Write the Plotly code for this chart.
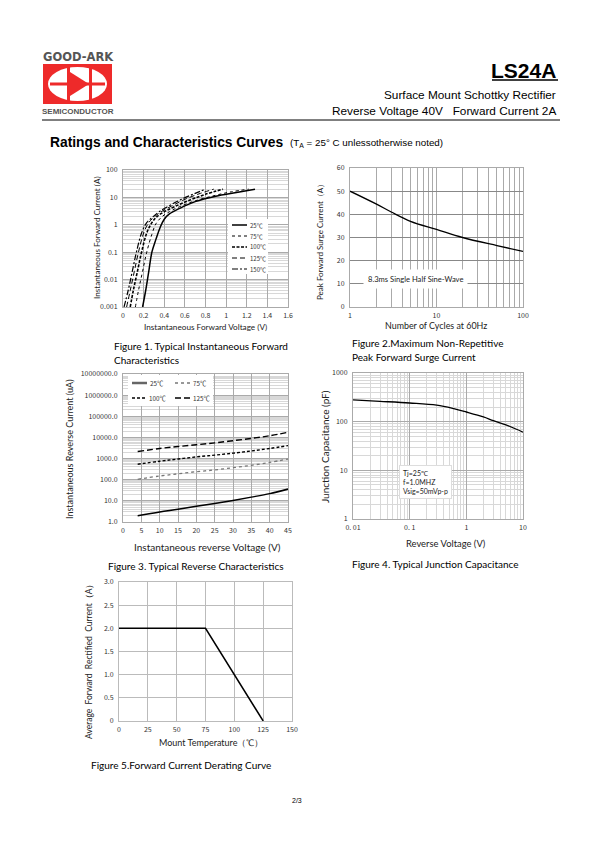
import plotly.graph_objects as go

W, H = 595, 842
def fx(p): return p / W
def fy(p): return 1 - p / H

# ---------------- DATA ----------------
# Figure 1: forward characteristics (V, A)
f1_v25 = [0.19, 0.22, 0.25, 0.28, 0.32, 0.36, 0.40, 0.45, 0.55, 0.70, 0.90, 1.10, 1.28]
f1_i25 = [0.001, 0.004, 0.02, 0.1, 0.3, 0.8, 1.6, 2.5, 4.0, 7.0, 11.0, 15.0, 20.0]
f1_v75 = [0.12, 0.15, 0.19, 0.23, 0.28, 0.32, 0.38, 0.45, 0.55, 0.70, 0.90, 1.05, 1.22]
f1_i75 = [0.001, 0.004, 0.02, 0.1, 0.45, 1.1, 2.0, 3.0, 4.6, 7.5, 12.0, 16.0, 20.0]
f1_v100 = [0.07, 0.10, 0.14, 0.18, 0.23, 0.28, 0.33, 0.40, 0.50, 0.65, 0.80, 0.97]
f1_i100 = [0.001, 0.004, 0.02, 0.1, 0.5, 1.2, 2.0, 3.0, 4.6, 8.0, 13.0, 20.0]
f1_v125 = [0.035, 0.07, 0.11, 0.15, 0.20, 0.25, 0.30, 0.37, 0.47, 0.60, 0.75, 0.88]
f1_i125 = [0.001, 0.004, 0.02, 0.1, 0.5, 1.2, 1.9, 3.0, 4.8, 8.5, 14.0, 20.0]
f1_v150 = [0.01, 0.05, 0.09, 0.13, 0.18, 0.23, 0.28, 0.35, 0.45, 0.58, 0.70, 0.80]
f1_i150 = [0.001, 0.004, 0.02, 0.1, 0.5, 1.2, 1.8, 3.0, 5.0, 9.0, 14.0, 20.0]
f1_names = ["25℃", "75℃", "100℃", "125℃", "150℃"]
f1_xticks = [0, 0.2, 0.4, 0.6, 0.8, 1.0, 1.2, 1.4, 1.6]
f1_xtext = ["0", "0.2", "0.4", "0.6", "0.8", "1", "1.2", "1.4", "1.6"]
f1_yticks = [0.001, 0.01, 0.1, 1, 10, 100]
f1_ytext = ["0.001", "0.01", "0.1", "1", "10", "100"]

# Figure 2: surge current
f2_cycles = [1, 2, 3, 5, 10, 20, 50, 100]
f2_amps = [50, 44.5, 41, 37, 33.5, 30, 26.5, 24]
f2_note = "8.3ms Single Half Sine-Wave"

# Figure 3: reverse characteristics (V, uA)
f3_v = [4, 10, 15, 20, 25, 30, 35, 40, 45]
f3_i25 = [2.0, 3.0, 4.0, 5.5, 7.5, 10.5, 15, 22, 36]
f3_i75 = [105, 150, 190, 240, 290, 370, 480, 660, 950]
f3_i100 = [540, 750, 950, 1200, 1450, 1800, 2300, 3000, 4100]
f3_i125 = [2150, 3000, 3700, 4500, 5500, 7000, 9000, 12000, 17500]
f3_names = ["25℃", "75℃", "100℃", "125℃"]
f3_yticks = [1, 10, 100, 1000, 10000, 100000, 1000000, 10000000]
f3_ytext = ["1.0", "10.0", "100.0", "1000.0", "10000.0", "100000.0", "1000000.0", "10000000.0"]

# Figure 4: junction capacitance
f4_v = [0.01, 0.03, 0.1, 0.3, 0.6, 1, 2, 3, 5, 10]
f4_c = [280, 262, 242, 218, 185, 158, 125, 105, 86, 61]
f4_xticks = [0.01, 0.1, 1, 10]
f4_xtext = ["0. 01", "0. 1", "1", "10"]
f4_yticks = [1, 10, 100, 1000]
f4_ytext = ["1", "10", "100", "1000"]
f4_note = "Tj=25℃<br>f=1.0MHZ<br>Vsig=50mVp-p"

# Figure 5: derating
f5_t = [0, 75, 125]
f5_a = [2.0, 2.0, 0.0]
f5_yticks = [0, 0.5, 1.0, 1.5, 2.0, 2.5, 3.0]
f5_ytext = ["0", "0.5", "1.0", "1.5", "2.0", "2.5", "3.0"]

# ---------------- FIGURE ----------------
fig = go.Figure()
K = "#000000"
tickfont = dict(family="Noto Sans CJK SC", size=7, color="#333")

def minor_vals(lo, hi):
    return [m * 10 ** e for e in range(lo, hi) for m in range(2, 10)]

# line styles
f1_styles = [dict(width=1.5), dict(width=1, dash="dot"), dict(width=1.6, dash="3px,1.5px"),
             dict(width=1, dash="5px,3px"), dict(width=1.2, dash="6px,2px,2px,2px")]
f3_styles = [dict(width=1.5), dict(width=1.3, dash="dot"), dict(width=1.4, dash="3px,2px"),
             dict(width=1.4, dash="6px,3px")]
f3_colors = [K, "#777", K, K]

f1_series = [(f1_v25, f1_i25), (f1_v75, f1_i75), (f1_v100, f1_i100), (f1_v125, f1_i125),
             (f1_v150, f1_i150)]
for (v, i), nm, st in zip(f1_series, f1_names, f1_styles):
    fig.add_trace(go.Scatter(x=v, y=i, xaxis="x", yaxis="y", mode="lines", name=nm,
                             line=dict(color=K, **st), line_shape="spline", showlegend=False))

fig.add_trace(go.Scatter(x=f2_cycles, y=f2_amps, xaxis="x2", yaxis="y2", mode="lines",
                         line=dict(color=K, width=1.3), showlegend=False, line_shape="spline"))

for i, nm, st, c in zip([f3_i25, f3_i75, f3_i100, f3_i125], f3_names, f3_styles, f3_colors):
    fig.add_trace(go.Scatter(x=f3_v, y=i, xaxis="x3", yaxis="y3", mode="lines", name=nm,
                             line=dict(color=c, **st), line_shape="spline", showlegend=False))

fig.add_trace(go.Scatter(x=f4_v, y=f4_c, xaxis="x4", yaxis="y4", mode="lines",
                         line=dict(color=K, width=1.3), showlegend=False, line_shape="spline"))

fig.add_trace(go.Scatter(x=f5_t, y=f5_a, xaxis="x5", yaxis="y5", mode="lines",
                         line=dict(color=K, width=1.5), showlegend=False))

def xax(l, r, anchor, **kw):
    d = dict(domain=[fx(l), fx(r)], anchor=anchor, showgrid=True, gridcolor="#aaa", gridwidth=1,
             zeroline=False, showline=True, mirror=True, linecolor="#aaa", ticks="",
             tickfont=tickfont, ticklabelstandoff=2, automargin=False)
    d.update(kw)
    return d

def yax(t, b, anchor, **kw):
    d = dict(domain=[fy(b), fy(t)], anchor=anchor, showgrid=True, gridcolor="#aaa", gridwidth=1,
             zeroline=False, showline=True, mirror=True, linecolor="#aaa", ticks="",
             tickfont=tickfont, ticklabelstandoff=3, automargin=False)
    d.update(kw)
    return d

def mg(lo, hi, color="#d8d8d8"):
    return dict(showgrid=True, gridcolor=color, gridwidth=1, tickvals=minor_vals(lo, hi), ticks="")

fig.update_layout(
    width=W, height=H, margin=dict(l=0, r=0, t=0, b=0, autoexpand=False),
    paper_bgcolor="white", plot_bgcolor="white", showlegend=False,
    xaxis=xax(123, 288, "y", range=[0, 1.6], tickvals=f1_xticks, ticktext=f1_xtext),
    yaxis=yax(170, 307, "x", type="log", range=[-3, 2], tickvals=f1_yticks, ticktext=f1_ytext,
              minor=mg(-3, 2)),
    xaxis2=xax(350, 523, "y2", type="log", range=[0, 2], tickvals=[1, 10, 100],
               ticktext=["1", "10", "100"], minor=mg(0, 2, "#aaa")),
    yaxis2=yax(168, 307, "x2", range=[0, 60], dtick=10, gridcolor="#888"),
    xaxis3=xax(123, 288, "y3", range=[0, 45], dtick=5),
    yaxis3=yax(374, 522, "x3", type="log", range=[0, 7], tickvals=f3_yticks, ticktext=f3_ytext,
               minor=mg(0, 7)),
    xaxis4=xax(353, 523, "y4", type="log", range=[-2, 1], tickvals=f4_xticks, ticktext=f4_xtext,
               minor=mg(-2, 1)),
    yaxis4=yax(373, 519, "x4", type="log", range=[0, 3], tickvals=f4_yticks, ticktext=f4_ytext,
               minor=mg(0, 3)),
    xaxis5=xax(119, 292, "y5", range=[0, 150], dtick=25, gridcolor="#bbb", linecolor="#bbb"),
    yaxis5=yax(582, 721, "x5", range=[0, 3], tickvals=f5_yticks, ticktext=f5_ytext,
               gridcolor="#bbb", linecolor="#bbb"),
)

ann = []
def text(x, y, s, size, family="Lato", color="#000", xanchor="center", yanchor="middle",
         textangle=0, **kw):
    ann.append(dict(x=fx(x), y=fy(y), xref="paper", yref="paper", text=s, showarrow=False,
                    font=dict(family=family, size=size, color=color), xanchor=xanchor,
                    yanchor=yanchor, textangle=textangle, **kw))

shapes = []
def P(x, y): return f"{fx(x)},{fy(y)}"
def rect(x0, y0, x1, y1, color, lc=None, lw=0):
    shapes.append(dict(type="rect", xref="paper", yref="paper", x0=fx(x0), x1=fx(x1),
                       y0=fy(y1), y1=fy(y0), fillcolor=color,
                       line=dict(width=lw, color=lc or color)))
def hline(x0, x1, y, color="black", width=1, dash="solid"):
    shapes.append(dict(type="line", xref="paper", yref="paper", x0=fx(x0), x1=fx(x1),
                       y0=fy(y), y1=fy(y), line=dict(color=color, width=width, dash=dash)))

# Header
text(78, 57, "<b>GOOD-ARK</b>", 11.5, family="DejaVu Sans", color="#555")
text(78, 111, "<b>SEMICONDUCTOR</b>", 8, family="Liberation Sans", color="#555")
text(558, 71, "<b>LS24A</b>", 21, family="Liberation Sans", xanchor="right")
text(558, 95, "Surface Mount Schottky Rectifier", 11.8, family="Liberation Sans", xanchor="right")
text(558, 111, "Reverse Voltage 40V   Forward Current 2A", 11.8, family="Liberation Sans",
     xanchor="right")
text(48, 142, "<b>Ratings and Characteristics Curves</b>", 13.8, family="Liberation Sans",
     xanchor="left")
text(288, 143, "(T<sub>A</sub> = 25° C unlessotherwise noted)", 9.8, family="Liberation Sans",
     xanchor="left")
text(297, 800, "2/3", 7, family="Liberation Sans")

# Figure 1
text(97, 238, "Instantaneous Forward Current (A)", 8.1, textangle=-90, color="#222")
text(205, 327, "Instantaneous Forward Voltage (V)", 8.2, color="#222")
text(112, 346, "Figure 1. Typical Instantaneous Forward", 10, xanchor="left")
text(112, 360, "Characteristics", 10, xanchor="left")
rect(228, 219, 268, 274, "white")
for k, (nm, st) in enumerate(zip(f1_names, f1_styles)):
    yy = 225 + k * 11
    d = st.get("dash", "solid")
    hline(232, 247, yy, color=K, width=st["width"], dash=d)
    text(248, yy, nm, 6, family="Noto Sans CJK SC", color="#333", xanchor="left")

# Figure 2
text(320, 240, "Peak Forward Surge Current（A）", 8, textangle=-90, color="#222")
text(436, 325, "Number of Cycles at 60Hz", 8.9, color="#222")
text(415, 279, f2_note, 7.6, color="#222", bgcolor="white", borderpad=4)
text(350, 343, "Figure 2.Maximum Non-Repetitive", 10, xanchor="left")
text(350, 357, "Peak Forward Surge Current", 10, xanchor="left")

# Figure 3
text(69, 449, "Instantaneous Reverse Current (uA)", 9, textangle=-90, color="#222")
text(207, 547, "Instantaneous reverse Voltage (V)", 10, color="#222")
text(196, 566, "Figure 3. Typical Reverse Characteristics", 10)
rect(128, 375, 213, 406, "white")
leg3 = [(132, 147, 383, "#666", 2.5, "solid"), (175, 190, 383, "#777", 1.3, "dot"),
        (132, 146, 398, K, 1.3, "3px,2px"), (175, 190, 398, K, 1.3, "6px,3px")]
for (x0, x1, yy, c, w, d), nm in zip(leg3, f3_names):
    hline(x0, x1, yy, color=c, width=w, dash=d)
    text(x1 + 1, yy, nm, 6.3, family="Noto Sans CJK SC", color="#333", xanchor="left")

# Figure 4
text(325, 446, "Junction Capacitance (pF)", 10, textangle=-90, color="#222")
text(446, 543, "Reverse Voltage (V)", 9.4, color="#222")
text(399, 482, f4_note, 7, color="#222", xanchor="left", align="left", bgcolor="white",
     bordercolor="#ddd", borderwidth=1, borderpad=3)
text(435, 564, "Figure 4. Typical Junction Capacitance", 10)

# Figure 5
text(89, 659, "Average  Forward  Rectified  Current（A）", 8.5, textangle=-90, color="#222")
text(211, 742, "Mount Temperature（℃）", 9, color="#222")
text(181, 765, "Figure 5.Forward Current Derating Curve", 10)

# Logo & rules
rect(43, 64, 112, 104, "#ee2a2a")
shapes.append(dict(type="circle", xref="paper", yref="paper", x0=fx(48), x1=fx(107),
                   y0=fy(101), y1=fy(67), fillcolor="white", line=dict(width=0)))
rect(67, 66, 70, 102, "#ee2a2a")
rect(89, 66, 92, 102, "#ee2a2a")
rect(50, 82.5, 105, 85.5, "#ee2a2a")
shapes.append(dict(type="path", xref="paper", yref="paper",
                   path=f"M {P(70,72)} L {P(70,96)} L {P(89,84)} Z",
                   fillcolor="#ee2a2a", line=dict(width=0)))
hline(42, 560, 120, width=1)
hline(492, 558, 80, width=1.5)

fig.update_layout(annotations=ann, shapes=shapes)

fig.write_html("out.html", config={"displayModeBar": False},
               post_script="document.body.style.margin='0';")
